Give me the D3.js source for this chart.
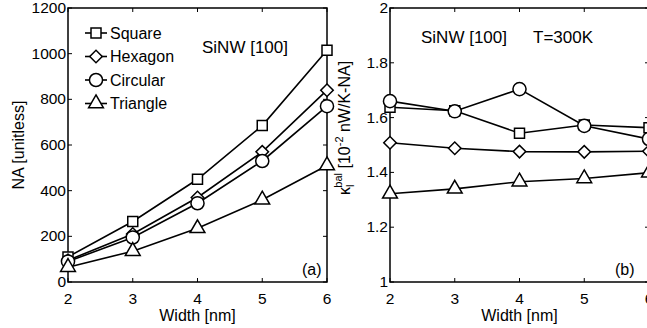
<!DOCTYPE html>
<html>
<head>
<meta charset="utf-8">
<script src="https://d3js.org/d3.v7.min.js"></script>
<style>
  body { margin: 0; background: #fff; }
  svg { display: block; overflow: hidden; }
  text { font-family: "Liberation Sans", Arial, sans-serif; fill: #000; }
  .frame { fill: none; stroke: #000; stroke-width: 1.5px; }
  .tickmark { stroke: #000; stroke-width: 1px; }
  .line { fill: none; stroke: #000; stroke-width: 1.6px; }
  .mark { fill: #fff; stroke: #000; stroke-width: 1.5px; }
</style>
</head>
<body>
<div id="chart"></div>
<script>
// widths along x (nm)
var widths = [2, 3, 4, 5, 6];
var shapes = ["Square", "Hexagon", "Circular", "Triangle"];

// panel (a): NA [unitless]
var naSquare   = [110, 265, 450, 685, 1015];
var naHexagon  = [95, 210, 370, 570, 840];
var naCircular = [90, 195, 345, 530, 770];
var naTriangle = [65, 135, 235, 360, 510];

// panel (b): kappa_l^bal [1e-2 nW/K-NA]
var kSquare   = [1.638, 1.625, 1.543, 1.573, 1.563];
var kHexagon  = [1.508, 1.488, 1.476, 1.475, 1.477];
var kCircular = [1.660, 1.623, 1.704, 1.570, 1.522];
var kTriangle = [1.322, 1.340, 1.366, 1.378, 1.399];

var naTicks = [0, 200, 400, 600, 800, 1000, 1200];
var kTicks = [1, 1.2, 1.4, 1.6, 1.8, 2];

var W = 647, H = 328;
var svg = d3.select("#chart").append("svg")
  .attr("width", W).attr("height", H);

var symbolOf = {
  "Square": d3.symbol().type(d3.symbolSquare).size(100),
  "Hexagon": d3.symbol().type(d3.symbolSquare).size(78),
  "Circular": d3.symbol().type(d3.symbolCircle).size(135),
  "Triangle": d3.symbol().type(d3.symbolTriangle).size(95)
};
var rotOf = { "Square": 0, "Hexagon": 45, "Circular": 0, "Triangle": 0 };

function drawPanel(opt) {
  var x = d3.scaleLinear().domain([2, 6]).range([opt.left, opt.left + 259]);
  var y = d3.scaleLinear().domain(opt.yDomain).range([282, 8]);
  var g = svg.append("g");

  // ticks on all four sides, pointing inward
  widths.forEach(function (v) {
    g.append("line").attr("class", "tickmark")
      .attr("x1", x(v)).attr("x2", x(v)).attr("y1", y.range()[0]).attr("y2", y.range()[0] - 4);
    g.append("line").attr("class", "tickmark")
      .attr("x1", x(v)).attr("x2", x(v)).attr("y1", y.range()[1]).attr("y2", y.range()[1] + 4);
    g.append("text").attr("x", x(v)).attr("y", 304)
      .attr("text-anchor", "middle").style("font-size", "15.5px").text(v);
  });
  opt.yTicks.forEach(function (v) {
    g.append("line").attr("class", "tickmark")
      .attr("x1", x.range()[0]).attr("x2", x.range()[0] + 4).attr("y1", y(v)).attr("y2", y(v));
    g.append("line").attr("class", "tickmark")
      .attr("x1", x.range()[1]).attr("x2", x.range()[1] - 4).attr("y1", y(v)).attr("y2", y(v));
    g.append("text").attr("x", x.range()[0] - 2).attr("y", y(v) + 5)
      .attr("text-anchor", "end").style("font-size", "15.5px").text(opt.fmt(v));
  });

  g.append("rect").attr("class", "frame")
    .attr("x", x.range()[0]).attr("y", y.range()[1])
    .attr("width", x.range()[1] - x.range()[0])
    .attr("height", y.range()[0] - y.range()[1]);

  var line = d3.line().x(function (d, i) { return x(widths[i]); }).y(function (d) { return y(d); });

  shapes.forEach(function (s) {
    var vals = opt.series[s];
    g.append("path").attr("class", "line").attr("d", line(vals));
    g.selectAll(null).data(vals).enter().append("path")
      .attr("class", "mark")
      .attr("d", symbolOf[s]())
      .attr("transform", function (d, i) {
        return "translate(" + x(widths[i]) + "," + y(d) + ") rotate(" + rotOf[s] + ")";
      });
  });

  g.append("text").attr("x", (x.range()[0] + x.range()[1]) / 2).attr("y", 321)
    .attr("text-anchor", "middle").style("font-size", "16px").text("Width [nm]");

  return { g: g, x: x, y: y };
}

var pa = drawPanel({
  left: 68, yDomain: [0, 1200], yTicks: naTicks,
  fmt: function (v) { return v; },
  series: { "Square": naSquare, "Hexagon": naHexagon, "Circular": naCircular, "Triangle": naTriangle }
});

var pb = drawPanel({
  left: 390, yDomain: [1, 2], yTicks: kTicks,
  fmt: function (v) { return v === 1 || v === 2 ? String(v) : v.toFixed(1); },
  series: { "Square": kSquare, "Hexagon": kHexagon, "Circular": kCircular, "Triangle": kTriangle }
});

// panel (a) y label
svg.append("text")
  .attr("transform", "translate(24,145) rotate(-90)")
  .attr("text-anchor", "middle").style("font-size", "16px")
  .text("NA [unitless]");

// panel (b) y label with sub/superscripts
var kl = svg.append("text")
  .attr("transform", "translate(350,128) rotate(-90)")
  .attr("text-anchor", "middle").style("font-size", "16px");
kl.append("tspan").text("κ");
kl.append("tspan").attr("dy", 4).style("font-size", "11px").text("l");
kl.append("tspan").attr("dx", -3).attr("dy", -12).style("font-size", "11px").text("bal");
kl.append("tspan").attr("dy", 8).text(" [10");
kl.append("tspan").attr("dy", -7).style("font-size", "11px").text("-2");
kl.append("tspan").attr("dy", 7).text(" nW/K-NA]");

// legend in panel (a)
shapes.forEach(function (s, i) {
  var ly = 33 + i * 23.5;
  svg.append("line").attr("class", "line")
    .attr("x1", 85).attr("x2", 107).attr("y1", ly).attr("y2", ly);
  svg.append("path").attr("class", "mark")
    .attr("d", symbolOf[s]())
    .attr("transform", "translate(96," + ly + ") rotate(" + rotOf[s] + ")");
  svg.append("text").attr("x", 110).attr("y", ly + 5.5)
    .style("font-size", "16px").text(s);
});

// annotations
svg.append("text").attr("x", 202).attr("y", 53).style("font-size", "17px").text("SiNW [100]");
svg.append("text").attr("x", 302).attr("y", 275).style("font-size", "16px").text("(a)");
svg.append("text").attr("x", 421).attr("y", 43).style("font-size", "17px").text("SiNW [100]");
svg.append("text").attr("x", 533).attr("y", 43).style("font-size", "17px").text("T=300K");
svg.append("text").attr("x", 615).attr("y", 275).style("font-size", "16px").text("(b)");
</script>
</body>
</html>
